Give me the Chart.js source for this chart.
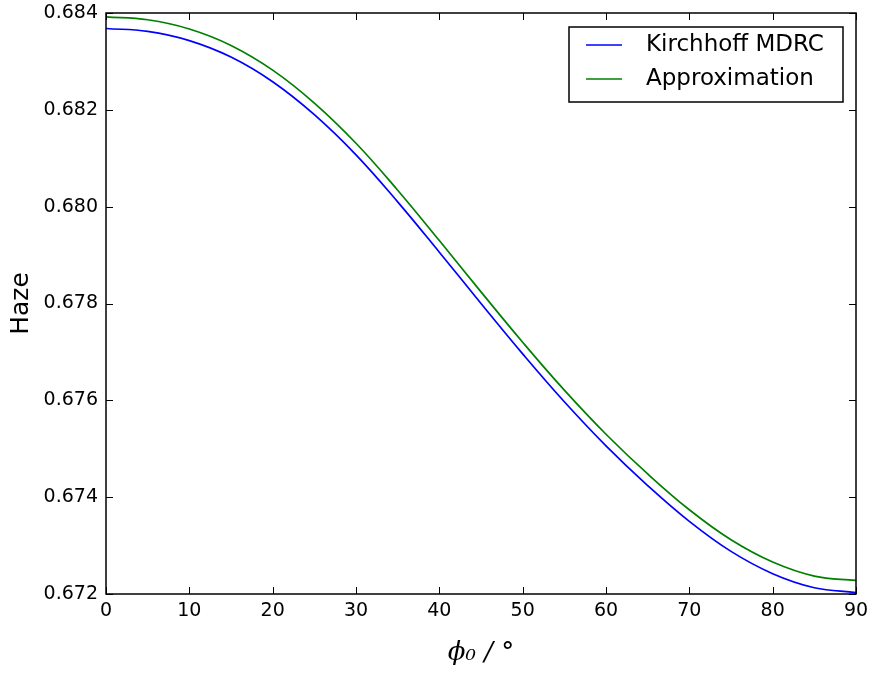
<!DOCTYPE html>
<html>
<head>
<meta charset="utf-8">
<script src="https://cdn.jsdelivr.net/npm/chart.js@4.4.1/dist/chart.umd.min.js"></script>
<style>
  html, body { margin: 0; padding: 0; background: #fff; }
  #wrap { width: 869px; height: 673px; position: relative; }
</style>
</head>
<body>
<div id="wrap"><canvas id="haze-chart"></canvas></div>
<script>
// angle phi_0 in degrees
const angles = [0, 5, 10, 15, 20, 25, 30, 35, 40, 45, 50, 55, 60, 65, 70, 75, 80, 85, 90];

// Kirchhoff MDRC haze
const kirchhoff = [0.68368, 0.68362, 0.68343, 0.68309, 0.68258, 0.68190, 0.68107, 0.68010, 0.67906, 0.67800,
    0.67696, 0.67597, 0.67506, 0.67424, 0.67350, 0.67288, 0.67242, 0.67213, 0.67203];

// approximation
const approximation = [0.68392, 0.68386, 0.68367, 0.68333, 0.68282, 0.68214, 0.68131, 0.68034, 0.67930, 0.67824,
    0.67720, 0.67621, 0.67530, 0.67448, 0.67374, 0.67312, 0.67266, 0.67237, 0.67228];

const xTicks = [0, 10, 20, 30, 40, 50, 60, 70, 80, 90];
const yTicks = [0.672, 0.674, 0.676, 0.678, 0.680, 0.682, 0.684];

const FONT = "'DejaVu Sans', sans-serif";

// matplotlib-like frame: full box plus inward ticks on all four sides
const framePlugin = {
    id: 'frame',
    afterDatasetsDraw(chart) {
        const { ctx, chartArea: a, scales } = chart;
        const len = 7;
        ctx.save();
        ctx.strokeStyle = '#000';
        ctx.lineWidth = 1;
        ctx.beginPath();
        xTicks.forEach(v => {
            const x = Math.round(scales.x.getPixelForValue(v)) + 0.5;
            ctx.moveTo(x, a.bottom); ctx.lineTo(x, a.bottom - len);
            ctx.moveTo(x, a.top); ctx.lineTo(x, a.top + len);
        });
        yTicks.forEach(v => {
            const y = Math.round(scales.y.getPixelForValue(v)) + 0.5;
            ctx.moveTo(a.left, y); ctx.lineTo(a.left + len, y);
            ctx.moveTo(a.right, y); ctx.lineTo(a.right - len, y);
        });
        ctx.stroke();
        ctx.lineWidth = 1.5;
        ctx.strokeRect(a.left, a.top, a.right - a.left, a.bottom - a.top);
        ctx.restore();
    }
};

// boxed legend in the upper right corner
const boxLegendPlugin = {
    id: 'boxLegend',
    afterDraw(chart) {
        const { ctx, chartArea: a } = chart;
        const right = a.right - 13, top = a.top + 14;
        const w = 274, h = 75;
        const left = right - w;
        ctx.save();
        ctx.fillStyle = '#fff';
        ctx.fillRect(left, top, w, h);
        ctx.strokeStyle = '#000';
        ctx.lineWidth = 1.5;
        ctx.strokeRect(left, top, w, h);
        ctx.font = '23px ' + FONT;
        ctx.textBaseline = 'middle';
        chart.data.datasets.forEach((ds, i) => {
            const y = top + 18 + i * 34;
            ctx.strokeStyle = ds.borderColor;
            ctx.lineWidth = 1.5;
            ctx.beginPath();
            ctx.moveTo(left + 17, y); ctx.lineTo(left + 53, y);
            ctx.stroke();
            ctx.fillStyle = '#000';
            ctx.fillText(ds.label, left + 77, y);
        });
        ctx.restore();
    }
};

new Chart(document.getElementById('haze-chart'), {
    type: 'line',
    data: {
        labels: angles,
        datasets: [
            {
                label: 'Kirchhoff MDRC',
                data: angles.map((a, i) => ({ x: a, y: kirchhoff[i] })),
                borderColor: '#0000ff',
                borderWidth: 1.7,
                pointRadius: 0,
                tension: 0.4,
                fill: false
            },
            {
                label: 'Approximation',
                data: angles.map((a, i) => ({ x: a, y: approximation[i] })),
                borderColor: '#008000',
                borderWidth: 1.7,
                pointRadius: 0,
                tension: 0.4,
                fill: false
            }
        ]
    },
    options: {
        responsive: true,
        maintainAspectRatio: false,
        animation: false,
        layout: { padding: { top: 13, right: 13, left: 0, bottom: 0 } },
        plugins: {
            legend: { display: false },
            tooltip: { enabled: false }
        },
        scales: {
            x: {
                type: 'linear',
                min: 0,
                max: 90,
                afterBuildTicks: s => { s.ticks = xTicks.map(v => ({ value: v })); },
                afterFit: s => { s.height = 79; s.paddingLeft = 0; s.paddingRight = 0; },
                grid: { display: false, drawTicks: false },
                border: { display: false },
                ticks: {
                    color: '#000',
                    padding: 6,
                    maxRotation: 0,
                    font: { family: FONT, size: 19 }
                },
                title: {
                    display: true,
                    text: 'ϕ₀ / °',
                    color: '#000',
                    padding: { top: 6 },
                    font: { family: "'DejaVu Serif', serif", size: 26, style: 'italic' }
                }
            },
            y: {
                min: 0.672,
                max: 0.684,
                afterBuildTicks: s => { s.ticks = yTicks.map(v => ({ value: v })); },
                afterFit: s => { s.width = 106; s.paddingTop = 0; s.paddingBottom = 0; },
                grid: { display: false, drawTicks: false },
                border: { display: false },
                ticks: {
                    color: '#000',
                    padding: 8,
                    font: { family: FONT, size: 19 },
                    callback: v => v.toFixed(3)
                },
                title: {
                    display: true,
                    text: 'Haze',
                    color: '#000',
                    padding: { bottom: 0, top: 6 },
                    font: { family: FONT, size: 25 }
                }
            }
        }
    },
    plugins: [framePlugin, boxLegendPlugin]
});
</script>
</body>
</html>
